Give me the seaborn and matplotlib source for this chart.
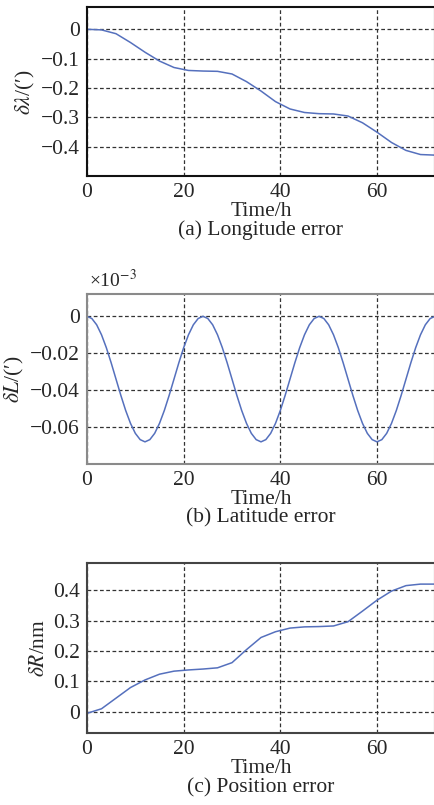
import numpy as np
import pandas as pd
import matplotlib
matplotlib.use("Agg")
import matplotlib.pyplot as plt
import seaborn as sns

# values
t_3h = [0, 3, 6, 9, 12, 15, 18, 21, 24, 27, 30, 33, 36, 39, 42, 45, 48, 51,
        54, 57, 60, 63, 66, 69, 72]
lon_err = [0, -0.002, -0.015, -0.045, -0.078, -0.108, -0.130, -0.140, -0.142,
           -0.143, -0.152, -0.178, -0.210, -0.246, -0.271, -0.283, -0.287,
           -0.288, -0.295, -0.318, -0.350, -0.385, -0.412, -0.426, -0.428]

t_1h = list(range(0, 73))
lat_cycle = [0, -0.0012, -0.0046, -0.0100, -0.0170, -0.0252, -0.0340, -0.0428,
             -0.0510, -0.0580, -0.0634, -0.0668, -0.0680, -0.0668, -0.0634,
             -0.0580, -0.0510, -0.0428, -0.0340, -0.0252, -0.0170, -0.0100,
             -0.0046, -0.0012]
lat_err = lat_cycle * 3 + [0]

pos_err = [-0.005, 0.010, 0.045, 0.080, 0.105, 0.124, 0.134, 0.138, 0.141,
           0.145, 0.162, 0.205, 0.245, 0.264, 0.276, 0.280, 0.281, 0.283,
           0.297, 0.332, 0.368, 0.398, 0.416, 0.421, 0.421]

x_ticks = [0, 20, 40, 60]
panels = [
    dict(x=t_3h, y=lon_err, ylabel=r"$\delta\lambda$/(′)", yticks=[0, -0.1, -0.2, -0.3, -0.4],
         yticklabels=["0", "−0.1", "−0.2", "−0.3", "−0.4"], ylim=(-0.5, 0.075),
         caption="(a) Longitude error", spine="#111111", rect=[0.2, 0.781, 0.8, 0.210]),
    dict(x=t_1h, y=lat_err, ylabel=r"$\delta L$/(′)", yticks=[0, -0.02, -0.04, -0.06],
         yticklabels=["0", "−0.02", "−0.04", "−0.06"], ylim=(-0.08, 0.012),
         caption="(b) Latitude error", spine="#8a8a8a", rect=[0.2, 0.4236, 0.8, 0.211]),
    dict(x=t_3h, y=pos_err, ylabel=r"$\delta R$/nm", yticks=[0, 0.1, 0.2, 0.3, 0.4],
         yticklabels=["0", "0.1", "0.2", "0.3", "0.4"], ylim=(-0.07, 0.49),
         caption="(c) Position error", spine="#444444", rect=[0.2, 0.0894, 0.8, 0.211]),
]

sns.set_style("white")
plt.rcParams["font.family"] = ["Liberation Serif", "DejaVu Serif"]
plt.rcParams["mathtext.fontset"] = "stix"
plt.rcParams["axes.unicode_minus"] = True

fig = plt.figure(figsize=(4.35, 8.05), dpi=100)
line_color = "#5570bd"
fs = 15.5

for p in panels:
    ax = fig.add_axes(p["rect"])
    df = pd.DataFrame({"t": p["x"], "v": p["y"]})
    sns.lineplot(data=df, x="t", y="v", ax=ax, color=line_color, linewidth=1.1)
    ax.set_xlim(0, 72)
    ax.set_ylim(*p["ylim"])
    ax.set_xticks(x_ticks)
    ax.set_xticklabels([str(v) for v in x_ticks], fontsize=fs)
    ax.set_yticks(p["yticks"])
    ax.set_yticklabels(p["yticklabels"], fontsize=fs)
    ax.tick_params(direction="in", length=3, width=0.8, pad=5)
    ax.grid(True, color="#333333", linestyle=(0, (3, 2)), linewidth=0.9)
    for s in ax.spines.values():
        s.set_color(p["spine"])
        s.set_linewidth(1.5)
    ax.set_xlabel("Time/h", fontsize=fs, labelpad=0)
    ax.set_ylabel(p["ylabel"], fontsize=fs, labelpad=3)
    ax.text(0.5, -0.32, p["caption"], transform=ax.transAxes, ha="center",
            va="center", fontsize=fs)

fig.text(0.205, 0.639, r"×10$^{-3}$", fontsize=14, ha="left", va="bottom")

fig.savefig("out.png", dpi=100)
